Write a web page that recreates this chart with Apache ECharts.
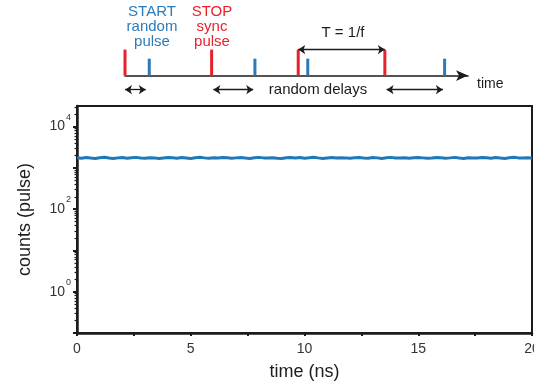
<!DOCTYPE html>
<html>
<head>
<meta charset="utf-8">
<script src="https://cdn.jsdelivr.net/npm/echarts@6/dist/echarts.min.js"></script>
<style>
html,body{margin:0;padding:0;background:#fff;}
#c{width:534px;height:388px;}
</style>
</head>
<body>
<div id="c"></div>
<script>
// ---- main plot data ----
const timeStart = 0;      // ns
const timeStep = 0.2;     // ns
const counts = [
1760,1720,1790,1740,1700,1770,1810,1730,1690,1750,
1780,1720,1760,1800,1740,1710,1770,1750,1690,1740,
1790,1760,1720,1780,1740,1700,1760,1820,1750,1720,
1770,1730,1780,1760,1710,1750,1790,1740,1700,1760,
1800,1750,1730,1770,1720,1690,1760,1790,1740,1780,
1720,1760,1810,1750,1700,1740,1780,1730,1770,1750,
1710,1760,1790,1740,1720,1780,1750,1700,1760,1800,
1740,1730,1770,1720,1760,1790,1750,1710,1740,1780,
1760,1720,1750,1800,1740,1700,1770,1750,1730,1790,
1760,1720,1780,1740,1700,1760,1810,1750,1730,1770,
1750
];
const xTickLabels = [0, 5, 10, 15, 20];
const yMajorExps = [-1, 0, 1, 2, 3, 4];
const yLabelExps = [0, 2, 4];

// ---- schematic (time in units of the sync period T) ----
const stopPulses = [0, 1, 2, 3];
const startPulses = [0.28, 1.50, 2.11, 3.69];
const stopHeight = 1.0;
const startHeight = 0.65;
const delayArrows = [[0, 0.24], [1.02, 1.48], [3.02, 3.67]];
const periodArrow = [2, 3];

const mainData = counts.map((v, i) => [+(timeStart + i * timeStep).toFixed(2), v]);
const minorLog = [];
for (let e = -1; e <= 4; e++) {
  for (let k = 2; k <= 9; k++) {
    const v = e + Math.log10(k);
    if (v <= 4.5) minorLog.push(v);
  }
}
const BLUE = '#2b7bba', RED = '#e8212b', INK = '#1c1c1c';
const FONT = 'Liberation Sans';

const chart = echarts.init(document.getElementById('c'), null, {renderer: 'canvas'});
chart.setOption({
  animation: false,
  textStyle: {fontFamily: FONT},
  grid: [
    {left: 77, right: 2, top: 106, bottom: 55, show: true, borderColor: INK, borderWidth: 2, backgroundColor: 'transparent', containLabel: false, outerBoundsMode: 'none'},
    {left: 125, width: 343, top: 8, height: 88.4, containLabel: false, outerBoundsMode: 'none'}
  ],
  xAxis: [
    {
      gridIndex: 0, type: 'value', min: 0, max: 20, interval: 2.5, position: 'bottom',
      name: 'time (ns)', nameLocation: 'middle', nameGap: 30,
      nameTextStyle: {fontSize: 18, color: INK, fontFamily: FONT},
      axisLine: {show: true, onZero: false, lineStyle: {color: INK, width: 2.5}},
      axisTick: {show: true, length: 3, lineStyle: {color: INK, width: 2}},
      axisLabel: {
        margin: 9, fontSize: 14, color: '#333', fontFamily: FONT,
        formatter: v => xTickLabels.indexOf(v) >= 0 ? String(v) : ''
      },
      splitLine: {show: false}
    },
    {
      gridIndex: 1, type: 'value', min: 0, max: 3.96,
      name: 'time', nameLocation: 'end', nameGap: 9,
      nameTextStyle: {fontSize: 14, color: INK, fontFamily: FONT, verticalAlign: 'top', padding: [2, 0, 0, 0]},
      axisLine: {show: true, onZero: true, symbol: ['none', 'arrow'], symbolSize: [8, 12], lineStyle: {color: INK, width: 1.6}},
      axisTick: {show: false}, axisLabel: {show: false}, splitLine: {show: false}
    }
  ],
  yAxis: [
    {
      gridIndex: 0, type: 'log', logBase: 10, min: 0.1, max: Math.pow(10, 4.5), position: 'left',
      show: false, splitLine: {show: false}
    },
    {
      gridIndex: 0, type: 'value', min: -1, max: 4.5, position: 'left',
      name: 'counts (pulse)', nameLocation: 'middle', nameGap: 43,
      nameTextStyle: {fontSize: 18, color: INK, fontFamily: FONT},
      axisLine: {show: true, onZero: false, lineStyle: {color: INK, width: 2.5}},
      axisTick: {show: true, length: 4, customValues: yMajorExps, lineStyle: {color: INK, width: 2}},
      axisLabel: {
        margin: 6, customValues: yLabelExps, color: '#333', fontFamily: FONT,
        formatter: v => '{b|10}{s|' + v + '}',
        rich: {
          b: {fontSize: 14, lineHeight: 28, color: '#333', fontFamily: FONT},
          s: {fontSize: 9, lineHeight: 10, verticalAlign: 'top', padding: [0, 0, 0, 1], color: '#333', fontFamily: FONT}
        }
      },
      splitLine: {show: false}
    },
    {
      gridIndex: 0, type: 'value', min: -1, max: 4.5, position: 'left',
      axisLine: {show: false, onZero: false},
      axisTick: {show: true, length: 2.5, customValues: minorLog, lineStyle: {color: INK, width: 1.2}},
      axisLabel: {show: false}, splitLine: {show: false}
    },
    {
      gridIndex: 1, type: 'value', min: -0.8, max: 2.6, show: false, splitLine: {show: false}
    }
  ],
  series: [
    {
      type: 'line', xAxisIndex: 0, yAxisIndex: 0, data: mainData,
      showSymbol: false, symbol: 'none',
      lineStyle: {color: '#1f78b8', width: 3}
    },
    {
      type: 'bar', xAxisIndex: 1, yAxisIndex: 3, barWidth: 3, barGap: '-100%',
      data: stopPulses.map(x => [x, stopHeight]),
      itemStyle: {color: RED},
      markLine: {
        silent: true, symbol: ['arrow', 'arrow'], symbolSize: 7,
        label: {show: false},
        lineStyle: {color: INK, type: 'solid', width: 1.3},
        data: delayArrows.map(a => [{coord: [a[0], -0.54]}, {coord: [a[1], -0.54]}])
          .concat([[{coord: [periodArrow[0], stopHeight]}, {coord: [periodArrow[1], stopHeight]}]])
      }
    },
    {
      type: 'bar', xAxisIndex: 1, yAxisIndex: 3, barWidth: 3, barGap: '-100%',
      data: startPulses.map(x => [x, startHeight]),
      itemStyle: {color: BLUE}
    }
  ],
  graphic: [
    {type: 'text', x: 152, y: 12, style: {text: 'START', fill: BLUE, font: '15px "Liberation Sans"', textAlign: 'center', textVerticalAlign: 'middle'}},
    {type: 'text', x: 152, y: 27, style: {text: 'random', fill: BLUE, font: '15px "Liberation Sans"', textAlign: 'center', textVerticalAlign: 'middle'}},
    {type: 'text', x: 152, y: 42, style: {text: 'pulse', fill: BLUE, font: '15px "Liberation Sans"', textAlign: 'center', textVerticalAlign: 'middle'}},
    {type: 'text', x: 212, y: 12, style: {text: 'STOP', fill: RED, font: '15px "Liberation Sans"', textAlign: 'center', textVerticalAlign: 'middle'}},
    {type: 'text', x: 212, y: 27, style: {text: 'sync', fill: RED, font: '15px "Liberation Sans"', textAlign: 'center', textVerticalAlign: 'middle'}},
    {type: 'text', x: 212, y: 42, style: {text: 'pulse', fill: RED, font: '15px "Liberation Sans"', textAlign: 'center', textVerticalAlign: 'middle'}},
    {type: 'text', x: 343, y: 33, style: {text: 'T = 1/f', fill: INK, font: '15px "Liberation Sans"', textAlign: 'center', textVerticalAlign: 'middle'}},
    {type: 'text', x: 318, y: 90, style: {text: 'random delays', fill: INK, font: '15px "Liberation Sans"', textAlign: 'center', textVerticalAlign: 'middle'}}
  ]
});
</script>
</body>
</html>
